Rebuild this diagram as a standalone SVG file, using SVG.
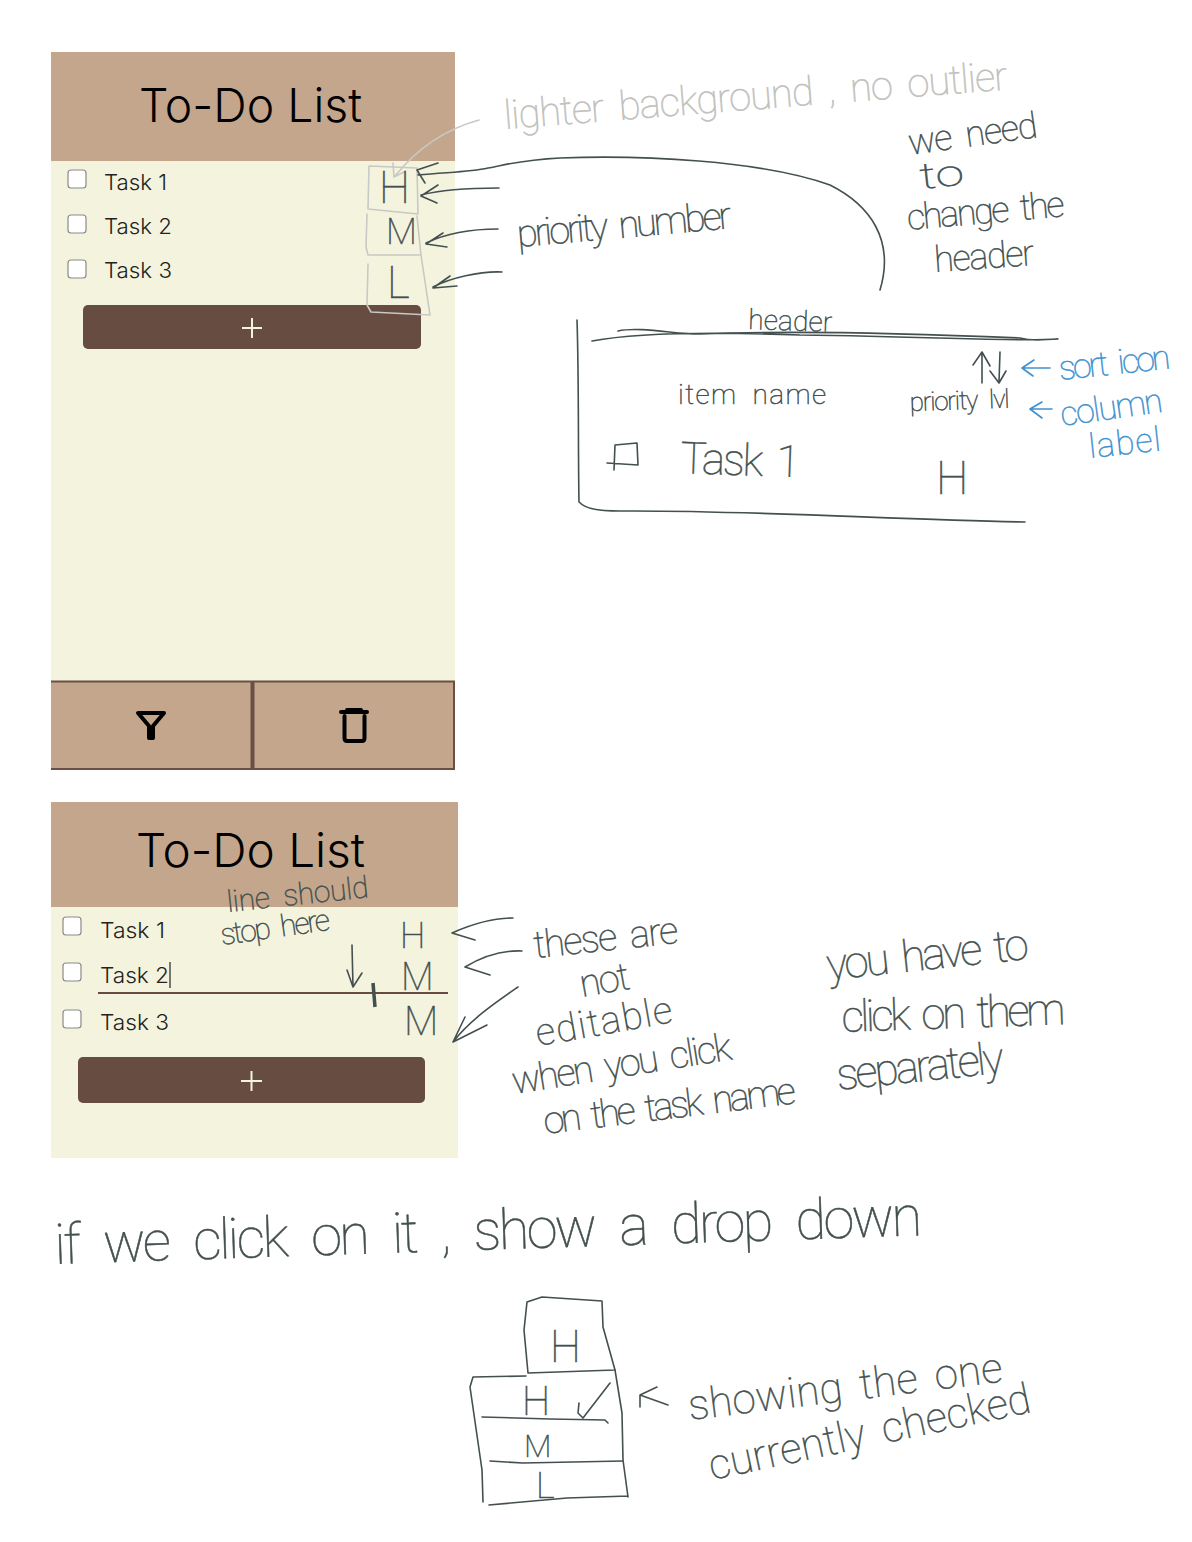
<svg xmlns="http://www.w3.org/2000/svg" width="1192" height="1542" viewBox="0 0 1192 1542">
<style>
.bar{fill:#c3a68b}.body{fill:#f4f4de}.btn{fill:#664c41}
.title{font-family:"Inter","Lato",sans-serif;font-weight:300;font-size:47px;fill:#000}
.task{font-family:"Inter","Lato",sans-serif;font-weight:300;font-size:22px;fill:#222}
.cb{fill:#fff;stroke:#8a8a8a;stroke-width:1.2}
.plus{stroke:#f4f4de;stroke-width:2;fill:none}
.ink,.gray,.blue{fill:none;stroke-width:1.6;stroke-linecap:round;stroke-linejoin:round}
.ink{stroke:#43504f}.gray{stroke:#c8c8c4}.blue{stroke:#4090d0}
.hw,.hg,.hb{font-family:"Roboto","Lato",sans-serif;font-weight:100;stroke-width:.5;word-spacing:7px}
.hw{fill:#43504f;stroke:#43504f}.hg{fill:#c0c0bc;stroke:#c0c0bc}.hb{fill:#4090d0;stroke:#4090d0}
.icon{fill:none;stroke:#000;stroke-width:4;stroke-linejoin:round;stroke-linecap:round}
</style>
<g id="screen-1">
<rect class="body" x="51" y="161" width="404" height="520"/>
<rect class="bar" x="51" y="52" width="404" height="109"/>
<text class="title" x="139" y="122" textLength="223" lengthAdjust="spacingAndGlyphs">To-Do List</text>
<rect class="cb" x="68" y="170" width="18" height="18" rx="3"/><text class="task" x="104" y="190" textLength="63" lengthAdjust="spacingAndGlyphs">Task 1</text>
<rect class="cb" x="68" y="215" width="18" height="18" rx="3"/><text class="task" x="104" y="234" textLength="68" lengthAdjust="spacingAndGlyphs">Task 2</text>
<rect class="cb" x="68" y="260" width="18" height="18" rx="3"/><text class="task" x="104" y="278" textLength="68" lengthAdjust="spacingAndGlyphs">Task 3</text>
<rect class="btn" x="83" y="305" width="338" height="44" rx="5"/>
<path class="plus" d="M242 328H262M252 318V338"/>
<rect class="bar" x="51" y="681" width="404" height="89"/>
<path d="M51 681.500H454V769H51" fill="none" stroke="#6a4f44" stroke-width="2"/>
<path d="M252.500 681V769" stroke="#6a4f44" stroke-width="4"/>
<path class="icon" d="M138 713H164L153 726V738H149V726Z"/>
<path class="icon" d="M341 712H367M347 710H361M344.500 716V738Q344.500 741 347 741H362Q364.500 741 364.500 738V716" stroke-width="3.500"/>
</g>
<g id="screen-2">
<rect class="body" x="51" y="907" width="407" height="251"/>
<rect class="bar" x="51" y="802" width="407" height="105"/>
<text class="title" x="136" y="867" textLength="229" lengthAdjust="spacingAndGlyphs">To-Do List</text>
<rect class="cb" x="63" y="917" width="18" height="18" rx="3"/><text class="task" x="100" y="938" textLength="65" lengthAdjust="spacingAndGlyphs">Task 1</text>
<rect class="cb" x="63" y="963" width="18" height="18" rx="3"/><text class="task" x="100" y="983" textLength="69" lengthAdjust="spacingAndGlyphs">Task 2</text>
<rect class="cb" x="63" y="1010" width="18" height="18" rx="3"/><text class="task" x="100" y="1030" textLength="69" lengthAdjust="spacingAndGlyphs">Task 3</text>
<path d="M170 962V988" stroke="#222" stroke-width="1.200"/>
<path d="M98 993H448" stroke="#664c41" stroke-width="2"/>
<rect class="btn" x="78" y="1057" width="347" height="46" rx="5"/>
<path class="plus" d="M241 1081H262M251.500 1071V1091"/>
</g>
<g id="connectors">
<path class="gray" d="M369 166L417 168L418 214L368 209ZM367 214L366 247L368 255L421 255L417 216M368 264L367 305L371 312L430 315L421 255"/>
<path class="gray" d="M479 120C450 128 420 145 395 176M393 163L394 177L404 172"/>
<path class="ink" d="M418 175C450 172 470 172 488 168C505 165 520 160 560 158C640 155 760 160 830 185C870 205 895 240 880 290M438 163L417 170L425 183"/>
<path class="ink" d="M499 188C470 188 440 190 421 195M438 185L421 196L437 203"/>
<path class="ink" d="M498 229C470 229 445 234 426 243M443 233L426 244L447 247"/>
<path class="ink" d="M502 272C480 271 450 278 433 287M450 276L433 288L457 286"/>
<path class="ink" d="M577 320C579 380 578 450 579 502C585 508 595 511 620 511C750 510 900 520 1025 522"/>
<path class="ink" d="M618 331C640 326 680 335 700 334C800 330 950 335 1020 338C1035 342 1045 339 1058 339C1010 342 950 337 800 335C720 332 640 332 592 341"/>
<path class="ink" d="M982 383V353M973 365L982 352L990 366M1000 352L999 382M990 371L999 383L1006 371"/>
<path class="blue" d="M1050 368H1022M1034 360L1022 368L1033 376M1052 409H1030M1042 402L1030 409L1042 418"/>
<path class="ink" d="M615 445L637 443L638 465L607 463M615 445L614 470"/>
<path class="ink" d="M513 918C490 918 470 925 452 933L475 940"/>
<path class="ink" d="M522 951C500 950 480 958 465 967L490 975"/>
<path class="ink" d="M518 987C495 1003 470 1020 453 1042L487 1025M465 1017L453 1042"/>
<path class="ink" d="M352 945L353 987M347 970L353 987L362 973"/>
<path d="M373 983L375 1007" stroke="#43504f" stroke-width="3.500" fill="none"/>
<path class="ink" d="M527 1302L542 1297L602 1301L603 1327L615 1370L528 1373L524 1330Z"/>
<path class="ink" d="M526 1376L473 1377L470 1387L482 1470L483 1502M615 1370L622 1413L623 1460L628 1497M489 1505L567 1498L628 1496"/>
<path class="ink" d="M482 1417L550 1419L605 1420L608 1423M490 1461L523 1463L623 1461M579 1403L578 1413L583 1418L610 1383"/>
<path class="ink" d="M668 1405L640 1395L657 1387M640 1395L640 1407"/>
</g>
<g id="notes">
<text class="hg" font-size="40" transform="translate(505 129) rotate(-4.500)" textLength="505">lighter background , no outlier</text>
<text class="hw" font-size="36" transform="translate(910 155) rotate(-8)" textLength="130">we need</text>
<text class="hw" font-size="36" transform="translate(921 189) rotate(-6)" textLength="44" lengthAdjust="spacingAndGlyphs">to</text>
<text class="hw" font-size="36" transform="translate(908 230) rotate(-5)" textLength="158">change the</text>
<text class="hw" font-size="36" transform="translate(935 272) rotate(-4)" textLength="100">header</text>
<text class="hw" font-size="38" transform="translate(518 247) rotate(-5)" textLength="215">priority number</text>
<text class="hw" font-size="28" transform="translate(748 329) rotate(2)" textLength="84">header</text>
<text class="hw" font-size="28" transform="translate(678 404)" textLength="148">item name</text>
<text class="hw" font-size="26" transform="translate(910 411) rotate(-2)" textLength="100">priority lvl</text>
<text class="hw" font-size="44" transform="translate(680 473) rotate(2)" textLength="120">Task 1</text>
<text class="hb" font-size="34" transform="translate(1060 380) rotate(-6)" textLength="112">sort icon</text>
<text class="hb" font-size="34" transform="translate(1062 426) rotate(-8)" textLength="103">column</text>
<text class="hb" font-size="34" transform="translate(1090 458) rotate(-6)" textLength="72">label</text>
<text class="hw" font-size="30" transform="translate(228 912) rotate(-6)" textLength="142">line should</text>
<text class="hw" font-size="30" transform="translate(222 945) rotate(-8)" textLength="110">stop here</text>
<text class="hw" font-size="38" transform="translate(535 958) rotate(-6)" textLength="145">these are</text>
<text class="hw" font-size="38" transform="translate(582 997) rotate(-10)" textLength="50">not</text>
<text class="hw" font-size="38" transform="translate(538 1046) rotate(-10)" textLength="138">editable</text>
<text class="hw" font-size="38" transform="translate(514 1094) rotate(-9)" textLength="222">when you click</text>
<text class="hw" font-size="38" transform="translate(545 1134) rotate(-7)" textLength="254">on the task name</text>
<text class="hw" font-size="44" transform="translate(828 980) rotate(-6)" textLength="203">you have to</text>
<text class="hw" font-size="44" transform="translate(842 1032) rotate(-2)" textLength="224">click on them</text>
<text class="hw" font-size="44" transform="translate(838 1090) rotate(-6)" textLength="168">separately</text>
<text class="hw" font-size="56" transform="translate(55 1264) rotate(-1.900)" textLength="868" style="word-spacing:14px">if we click on it , show a drop down</text>
<text class="hw" font-size="42" transform="translate(690 1420) rotate(-7)" textLength="316">showing the one</text>
<text class="hw" font-size="42" transform="translate(712 1480) rotate(-12)" textLength="328">currently checked</text>
<text class="hw" font-size="44" x="379" y="203">H</text>
<text class="hw" font-size="36" x="386" y="244">M</text>
<text class="hw" font-size="44" x="387" y="298">L</text>
<text class="hw" font-size="46" x="936" y="494">H</text>
<text class="hw" font-size="36" x="400" y="948">H</text>
<text class="hw" font-size="38" x="401" y="990">M</text>
<text class="hw" font-size="40" x="404" y="1035">M</text>
<text class="hw" font-size="44" x="550" y="1362">H</text>
<text class="hw" font-size="40" x="522" y="1415">H</text>
<text class="hw" font-size="32" x="524" y="1457">M</text>
<text class="hw" font-size="36" x="536" y="1498">L</text>
</g>
</svg>
